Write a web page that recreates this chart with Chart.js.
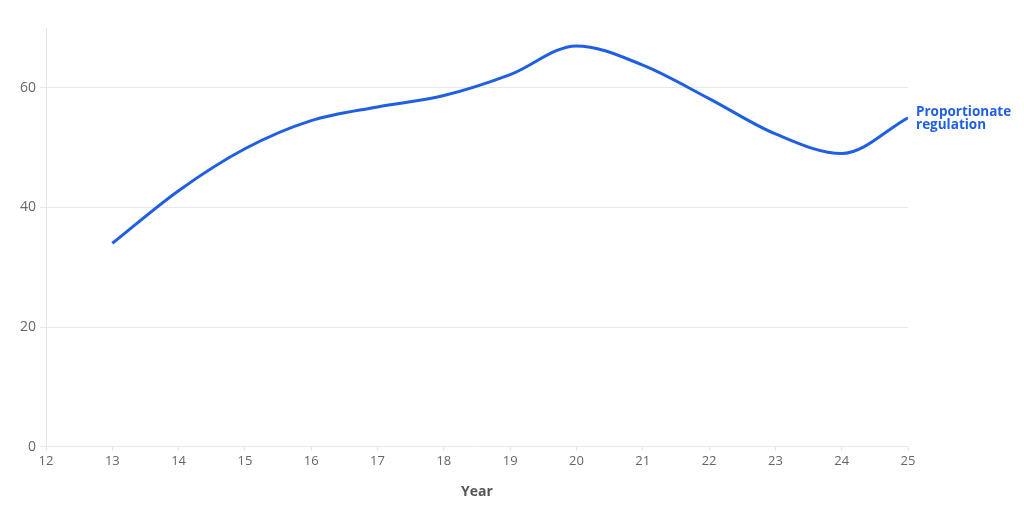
<!DOCTYPE html>
<html>
<head>
<meta charset="utf-8">
<script src="https://cdn.jsdelivr.net/npm/chart.js@4/dist/chart.umd.min.js"></script>
<style>
  html, body { margin: 0; padding: 0; background: #fff; }
  #wrap { width: 1024px; height: 510px; }
</style>
</head>
<body>
<div id="wrap"><canvas id="lineChart" width="1024" height="510"></canvas></div>
<script>
const years = [13, 14, 15, 16, 17, 18, 19, 20, 21, 22, 23, 24, 25];
const proportionate = [34, 42.8, 49.8, 54.5, 56.8, 58.7, 62.2, 67, 63.8, 58.2, 52.3, 49, 55];
const seriesLabel = ['Proportionate', 'regulation'];
const lineColor = '#1f5fe3';

// writes the series name next to the last point
const endLabel = {
  id: 'endLabel',
  afterDatasetsDraw(chart) {
    const meta = chart.getDatasetMeta(0);
    const pt = meta.data[meta.data.length - 1];
    const ctx = chart.ctx;
    ctx.save();
    ctx.fillStyle = lineColor;
    ctx.font = 'bold 13.5px "Open Sans", sans-serif';
    ctx.textBaseline = 'middle';
    ctx.textAlign = 'left';
    ctx.fillText(seriesLabel[0], pt.x + 8, pt.y - 6);
    ctx.fillText(seriesLabel[1], pt.x + 8, pt.y + 7);
    ctx.restore();
  }
};

const ctx = document.getElementById('lineChart').getContext('2d');
new Chart(ctx, {
  type: 'line',
  data: {
    datasets: [{
      label: seriesLabel.join(' '),
      data: years.map((y, i) => ({ x: y, y: proportionate[i] })),
      borderColor: lineColor,
      borderWidth: 3,
      pointRadius: 0,
      cubicInterpolationMode: 'monotone',
      fill: false
    }]
  },
  options: {
    responsive: false,
    animation: false,
    layout: { padding: { left: 16, right: 116, top: 28, bottom: 6 } },
    plugins: {
      legend: { display: false },
      tooltip: { enabled: false }
    },
    scales: {
      x: {
        type: 'linear',
        min: 12,
        max: 25,
        ticks: { stepSize: 1, color: '#666', font: { family: 'Open Sans', size: 13 }, padding: 3 },
        grid: { drawOnChartArea: false, drawTicks: true, tickLength: 4, color: '#e6e6e6' },
        border: { display: false },
        title: { display: true, text: 'Year', color: '#555', font: { family: 'Open Sans', size: 14, weight: 'bold' }, padding: { top: 11 } }
      },
      y: {
        min: 0,
        max: 70,
        ticks: { stepSize: 20, includeBounds: false, color: '#666', font: { family: 'Open Sans', size: 14 }, padding: 4 },
        grid: { color: '#e8e8e8', tickLength: 6 },
        border: { display: true, color: '#e6e6e6' }
      }
    }
  },
  plugins: [endLabel]
});
</script>
</body>
</html>
